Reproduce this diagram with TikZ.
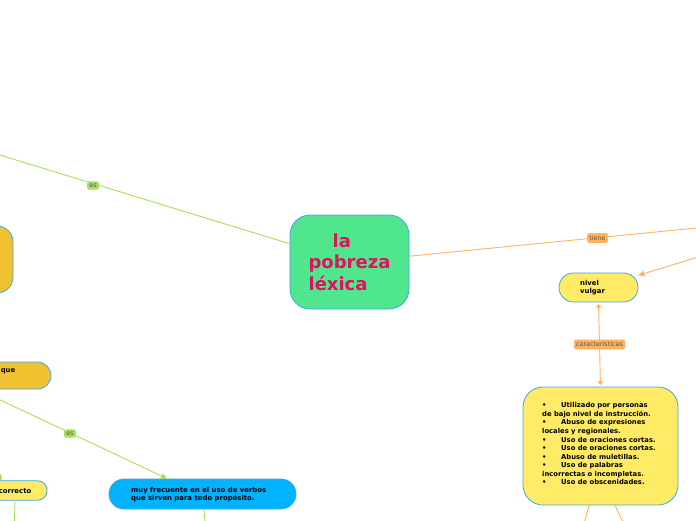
\documentclass[tikz,border=0pt]{standalone}
\usepackage{fontspec}
\setmainfont{DejaVu Sans}
\usetikzlibrary{arrows.meta}
\definecolor{edgegreen}{HTML}{A9E05B}
\definecolor{edgeorange}{HTML}{FFB35E}
\definecolor{nodeborder}{HTML}{3FA7E1}
\definecolor{centralfill}{HTML}{50E68E}
\definecolor{centraltext}{HTML}{E0115F}
\definecolor{yellowfill}{HTML}{FFEB66}
\definecolor{goldfill}{HTML}{F0C232}
\definecolor{bluefill}{HTML}{00B2FF}
\definecolor{labeltext}{HTML}{555555}
\begin{document}
\begin{tikzpicture}[x=1pt,y=-1pt,
  box/.style={draw=nodeborder, line width=0.8pt, inner sep=0pt},
  small/.style={font=\fontsize{6.9}{8}\selectfont\bfseries, text=black},
  lbl/.style={rounded corners=1.5pt, inner xsep=2.2pt, inner ysep=2.3pt, font=\fontsize{6.4}{6.5}\selectfont, text=labeltext},
  gline/.style={draw=edgegreen, line width=0.9pt},
  oline/.style={draw=edgeorange, line width=0.9pt},
  tip/.style={-{Triangle[length=6pt,width=6pt]}}
]
\useasboundingbox (0,0) rectangle (696,520);
\fill[white] (0,0) rectangle (696,520);

% coordinates for free ends
\coordinate (es1start) at (-50,139.8);
\coordinate (tieneend) at (720,225.7);
\coordinate (arrstart) at (720,250.3);
\coordinate (es2start) at (-60,371.6);
\coordinate (corrstart) at (-14,458);
\coordinate (b1end) at (584.5,522);
\coordinate (b2end) at (623,522);
\coordinate (corrend) at (14.5,522);
\coordinate (blueend) at (205,522);

% nodes
\node[box, fill=centralfill, rounded corners=20pt, minimum width=119pt, minimum height=94pt,
  font=\fontsize{18}{21.5}\selectfont\bfseries, text=centraltext, align=left] (central) at (349.5,262)
  {\hspace*{24pt}la\\pobreza\\léxica};

\node[box, fill=yellowfill, rounded corners=14.5pt, minimum width=79pt, minimum height=29pt] (nivel) at (598.5,287.5) {};
\node[small, align=left, anchor=north west, inner sep=0pt] (niveltext) at (580,280.5) {nivel\\vulgar};

\node[box, fill=yellowfill, rounded corners=20pt, minimum width=155pt, minimum height=118pt] (big) at (600.5,446) {};
\node[font=\fontsize{6.8}{8.55}\selectfont\bfseries, align=left, anchor=north west, inner sep=0pt] (bigtext) at (542,402.5)
  {\makebox[19pt][l]{•}Utilizado por personas\\
   de bajo nivel de instrucción.\\
   \makebox[19pt][l]{•}Abuso de expresiones\\
   locales y regionales.\\
   \makebox[19pt][l]{•}Uso de oraciones cortas.\\
   \makebox[19pt][l]{•}Uso de oraciones cortas.\\
   \makebox[19pt][l]{•}Abuso de muletillas.\\
   \makebox[19pt][l]{•}Uso de palabras\\
   incorrectas o incompletas.\\
   \makebox[19pt][l]{•}Uso de obscenidades.};

\node[box, fill=goldfill, rounded corners=16pt, minimum width=106pt, minimum height=67pt] (gold) at (-40,259.5) {};

\node[box, fill=goldfill, rounded corners=13.5pt, minimum width=222pt, minimum height=27pt] (que) at (-60,375.5) {};
\node[small, anchor=east, inner sep=0pt] (quetext) at (15.5,371.5) {que};

\node[box, fill=yellowfill, rounded corners=9.5pt, minimum width=174pt, minimum height=19.5pt] (correcto) at (-40,490.5) {};
\node[small, anchor=east, inner sep=0pt] (correctotext) at (31.5,491.5) {correcto};

\node[box, fill=bluefill, rounded corners=15pt, minimum width=187pt, minimum height=30pt] (blue) at (202.5,494) {};
\node[small, align=left, anchor=north west, inner sep=0pt] (bluetext) at (131,487.5)
  {muy frecuente en el uso de verbos\\que sirven para todo propósito.};

% connectors
\draw[gline] (es1start) -- (central);
\draw[oline] (central) -- (tieneend);
\draw[oline, tip] (arrstart) -- (nivel);
\draw[oline, {Circle[length=4.5pt]}-{Circle[length=4.5pt]}, shorten <=2pt, shorten >=2pt] (nivel.south) -- (big.north);
\draw[oline] ([xshift=-11.5pt]big.south) -- (b1end);
\draw[oline] ([xshift=14.5pt]big.south) -- (b2end);
\draw[gline, tip] (es2start) -- ([xshift=-35.5pt]blue.north);
\draw[gline, tip] (corrstart) -- ([xshift=42pt]correcto.north);
\draw[gline] ([xshift=55pt]correcto.south) -- (corrend);
\draw[gline] ([xshift=1.5pt]blue.south) -- (blueend);

% labels
\node[lbl, fill=edgegreen] (es1) at (93,185.5) {es};
\node[lbl, fill=edgeorange] (tiene) at (597.5,238) {tiene};
\node[lbl, fill=edgeorange] (carac) at (599.5,344.5) {caracteristicas};
\node[lbl, fill=edgegreen] (es2) at (70,433.5) {es};
\end{tikzpicture}
\end{document}
